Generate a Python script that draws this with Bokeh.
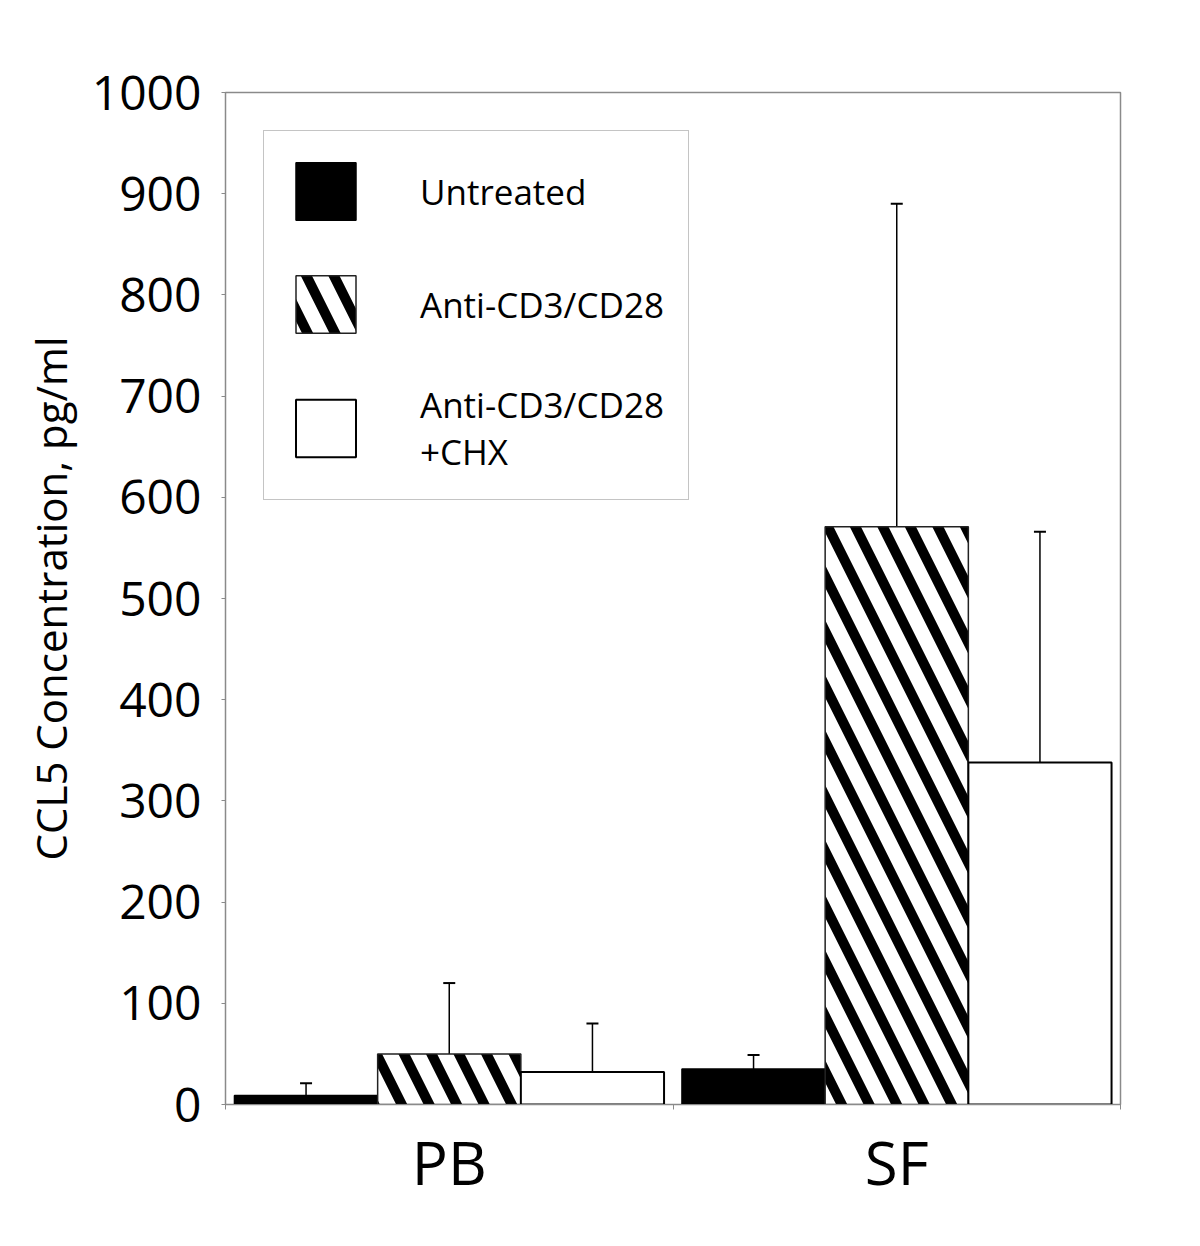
from bokeh.plotting import figure
from bokeh.models import (ColumnDataSource, Range1d, FixedTicker,
                          Whisker, TeeHead, Legend, LegendItem)
from bokeh.embed import file_html
from bokeh.resources import INLINE

# ---- data ----
groups = ["PB", "SF"]
treatments = ["Untreated", "Anti-CD3/CD28", "Anti-CD3/CD28\n+CHX"]
untreated = [9, 35]
untreated_sd = [12, 14]
anti = [50, 571]
anti_sd = [70, 319]
chx = [32, 338]
chx_sd = [48, 228]
y_ticks = [0, 100, 200, 300, 400, 500, 600, 700, 800, 900, 1000]

FONT = "Open Sans"
GREY = "#8a8a8a"

p = figure(frame_width=895, frame_height=1012,
           min_border_left=225, min_border_top=92, min_border_right=72, min_border_bottom=134,
           x_range=Range1d(0.5, len(groups) + 0.5), y_range=Range1d(0, 1000),
           output_backend="svg", toolbar_location=None)
p.background_fill_color = "white"
p.border_fill_color = "white"
p.grid.visible = False
p.outline_line_color = GREY
p.outline_line_width = 1.5

centers = [i + 1 for i in range(len(groups))]
bar_w = 0.32
offsets = [-bar_w, 0.0, bar_w]
series = [(untreated, untreated_sd), (anti, anti_sd), (chx, chx_sd)]
styles = [
    dict(fill_color="black", line_color="black", line_width=1.5),
    dict(fill_color="white", line_color="#222222", line_width=1.5,
         hatch_pattern="\\", hatch_color="black", hatch_scale=55, hatch_weight=10),
    dict(fill_color="white", line_color="black", line_width=2),
]

renderers = []
for (vals, sds), off, st in zip(series, offsets, styles):
    xs = [c + off for c in centers]
    src = ColumnDataSource(dict(x=xs, top=vals, upper=[v + s for v, s in zip(vals, sds)]))
    r = p.vbar(x="x", top="top", bottom=0, width=bar_w, source=src, **st)
    renderers.append(r)
    w = Whisker(source=src, base="x", lower="top", upper="upper", dimension="height",
                line_color="black", line_width=1.5,
                upper_head=TeeHead(size=12, line_color="black", line_width=2),
                lower_head=None)
    p.add_layout(w)

# ---- axes ----
yax = p.yaxis[0]
yax.ticker = FixedTicker(ticks=y_ticks)
yax.axis_line_color = GREY
yax.major_tick_line_color = GREY
yax.major_tick_out = 4
yax.major_tick_in = 0
yax.minor_tick_line_color = None
yax.major_label_text_font = FONT
yax.major_label_text_font_size = "48px"
yax.major_label_text_color = "black"
yax.major_label_standoff = 20
yax.axis_label = "CCL5 Concentration, pg/ml"
yax.axis_label_text_font = FONT
yax.axis_label_text_font_size = "42px"
yax.axis_label_text_font_style = "normal"
yax.axis_label_text_color = "black"
yax.axis_label_standoff = 10

xax = p.xaxis[0]
xax.ticker = FixedTicker(ticks=centers, minor_ticks=[c + 0.5 for c in range(len(groups) + 1)])
xax.major_label_overrides = {c: g for c, g in zip(centers, groups)}
xax.axis_line_color = GREY
xax.major_tick_line_color = None
xax.minor_tick_line_color = GREY
xax.minor_tick_out = 5
xax.minor_tick_in = 0
xax.major_label_text_font = FONT
xax.major_label_text_font_size = "60px"
xax.major_label_text_color = "black"
xax.major_label_standoff = 10

# ---- legend ----
legend = Legend(items=[LegendItem(label=t, renderers=[r]) for t, r in zip(treatments, renderers)],
                location="top_left", margin=38, padding=24, spacing=41,
                glyph_width=75, glyph_height=72, label_standoff=57,
                label_text_font=FONT, label_text_font_size="35px",
                label_text_color="black", label_text_line_height=1.1,
                border_line_color=GREY, border_line_width=1.5,
                background_fill_color="white", background_fill_alpha=1.0)
p.add_layout(legend)

open("out.html", "w").write(file_html(p, INLINE))
